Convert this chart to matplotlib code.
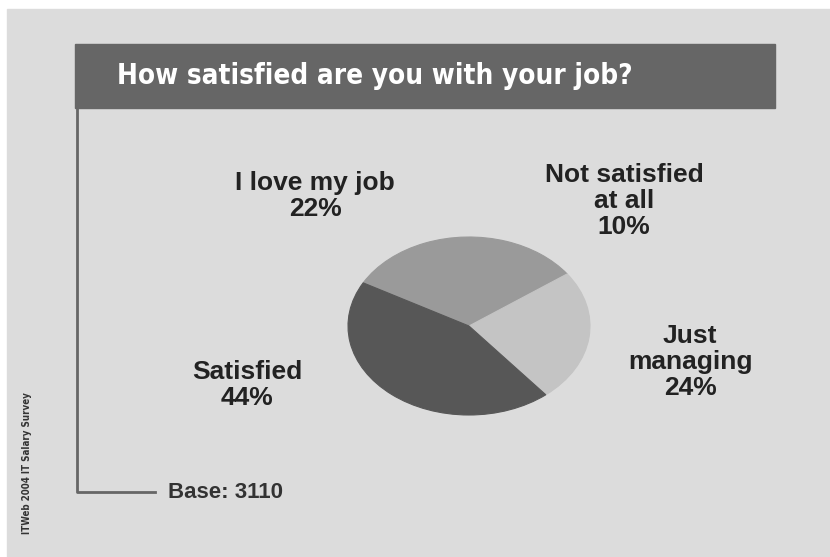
import matplotlib.pyplot as plt
from matplotlib.patches import Rectangle

# survey data
labels = ["I love my job", "Not satisfied\nat all", "Just\nmanaging", "Satisfied"]
shares = [22, 10, 24, 44]
colors = ["#9a9a9a", "#9a9a9a", "#c4c4c4", "#575757"]
title = "How satisfied are you with your job?"
source = "ITWeb 2004 IT Salary Survey"
base_note = "Base: 3110"

# where each label sits (pixel coords of the picture)
label_pos = [(315, 196), (624, 201), (690, 362), (247, 385)]

W, H = 830, 557
fig = plt.figure(figsize=(W / 100, H / 100), dpi=100)
fig.patch.set_facecolor("white")

# full figure axes in pixel units for the frame
bg = fig.add_axes([0, 0, 1, 1])
bg.set_xlim(0, W)
bg.set_ylim(H, 0)
bg.axis("off")
bg.add_patch(Rectangle((7, 9), W - 7, H - 9, color="#dcdcdc", zorder=0))
bg.add_patch(Rectangle((75, 44), 700, 64, color="#666666", zorder=1))
bg.plot([77, 77, 155], [108, 492, 492], color="#666666", lw=2, zorder=1)

bg.text(117, 76, title, color="white", fontsize=20, fontweight="bold",
        family="DejaVu Sans", fontstretch="condensed",
        va="center", ha="left")
bg.text(168, 492, base_note, color="#333333", fontsize=16, fontweight="bold",
        family=["Liberation Sans", "DejaVu Sans"], va="center", ha="left")
bg.text(27, 463, source, color="#333333", fontsize=7, fontweight="bold",
        rotation=90, family="DejaVu Sans", fontstretch="condensed",
        va="center", ha="center")

for lab, val, (x, y) in zip(labels, shares, label_pos):
    bg.text(x, y, f"{lab}\n{val}%", color="#222222", fontsize=19,
            fontweight="bold", family=["Liberation Sans", "DejaVu Sans"],
            ha="center", va="center", linespacing=1.1)

# the pie, squashed into an ellipse
pl, pr, pt, pb = 348, 590, 237, 415
pax = fig.add_axes([pl / W, (H - pb) / H, (pr - pl) / W, (pb - pt) / H])
wedges, _ = pax.pie(shares, colors=colors, startangle=151, counterclock=False)
for w, c in zip(wedges, colors):
    w.set_edgecolor(c)
    w.set_linewidth(0.8)
pax.set_aspect("auto")
pax.set_xlim(-1, 1)
pax.set_ylim(-1, 1)
pax.axis("off")

fig.savefig("out.png", dpi=100, facecolor=fig.get_facecolor())
